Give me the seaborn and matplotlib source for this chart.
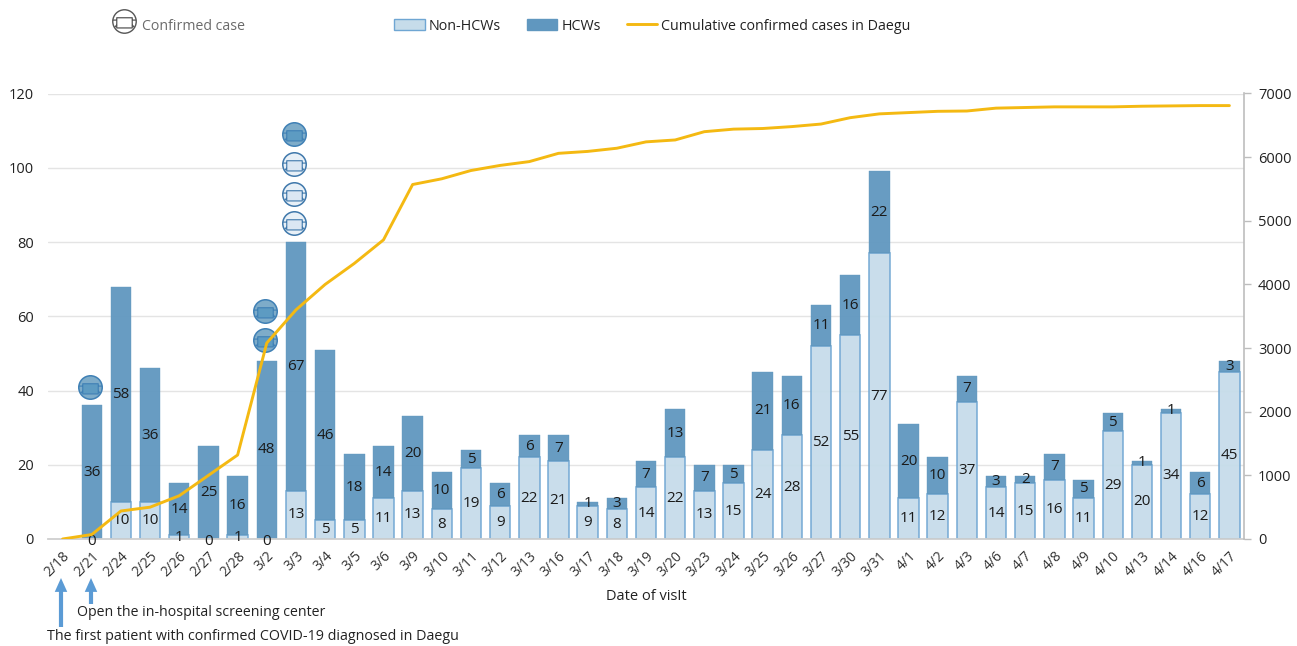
import numpy as np
import pandas as pd
import seaborn as sns
import matplotlib
matplotlib.use("Agg")
import matplotlib.pyplot as plt
from matplotlib.path import Path
from matplotlib.patches import Patch, FancyArrowPatch
from matplotlib.lines import Line2D

dates = ["2/18","2/21","2/24","2/25","2/26","2/27","2/28","3/2","3/3","3/4","3/5","3/6","3/9","3/10","3/11","3/12","3/13","3/16","3/17","3/18","3/19","3/20","3/23","3/24","3/25","3/26","3/27","3/30","3/31","4/1","4/2","4/3","4/6","4/7","4/8","4/9","4/10","4/13","4/14","4/16","4/17"]
non_hcw = [np.nan,0,10,10,1,0,1,0,13,5,5,11,13,8,19,9,22,21,9,8,14,22,13,15,24,28,52,55,77,11,12,37,14,15,16,11,29,20,34,12,45]
hcw = [np.nan,36,58,36,14,25,16,48,67,46,18,14,20,10,5,6,6,7,1,3,7,13,7,5,21,16,11,16,22,20,10,7,3,2,7,5,5,1,1,6,3]
cumulative = [0,70,440,500,680,1000,1320,3080,3600,4000,4330,4700,5570,5660,5790,5870,5930,6060,6090,6140,6240,6270,6400,6440,6450,6480,6520,6620,6680,6700,6720,6725,6770,6780,6790,6790,6790,6800,6805,6810,6810]
dark_icon_dates = ["2/21","3/2","3/2","3/3"]
dark_icon_levels = [41,53.5,61.5,109]
light_icon_dates = ["3/3","3/3","3/3"]
light_icon_levels = [85,93,101]

W, H = 1297, 646
sns.set_theme(style="white")
plt.rcParams["font.family"] = ["Open Sans", "DejaVu Sans"]
plt.rcParams["text.color"] = "#222222"

fig = plt.figure(figsize=(W/100, H/100), dpi=100)
ax = fig.add_axes([48/W, 1-539/H, (1244-48)/W, (539-93.5)/H])

df = pd.DataFrame({"date": dates, "non": non_hcw, "hcw": hcw, "cum": cumulative})
valid = df.dropna(subset=["non"])
C_LIGHT, C_DARK, C_EDGE = "#c6dcea", "#6097bf", "#6fa6d3"

sns.barplot(data=valid, x="date", y="non", order=dates, errorbar=None, saturation=1,
            color=C_LIGHT, edgecolor=C_EDGE, linewidth=1.1, width=0.7, ax=ax, zorder=2, alpha=0.95)
sns.barplot(data=valid, x="date", y="hcw", order=dates, errorbar=None, saturation=1,
            color=C_DARK, edgecolor=C_DARK, linewidth=0.3, width=0.7, ax=ax, zorder=2,
            bottom=valid["non"].to_numpy(), alpha=0.95)

ax.set_xlim(-0.5, 40.5)
ax.set_ylim(0, 120)
ax.set_yticks(range(0, 121, 20))
ax.set_axisbelow(True)
ax.grid(False)
ax.yaxis.grid(True, color="#e4e4e4", lw=1)
ax.tick_params(axis="y", length=0, pad=10, labelsize=10.5, labelcolor="#222222")
ax.tick_params(axis="x", length=0, pad=7, labelsize=10, labelcolor="#333333")
ax.set_xticks(range(len(dates)))
ax.set_xticklabels(dates, rotation=45, ha="right", rotation_mode="anchor")
ax.set_ylabel("")
ax.set_xlabel("")
for s in ["left", "top", "right"]:
    ax.spines[s].set_visible(False)
ax.spines["bottom"].set_color("#cfcfcf")
ax.spines["bottom"].set_linewidth(1.3)

# Segment labels
for i, (n, h) in enumerate(zip(non_hcw, hcw)):
    if np.isnan(n):
        continue
    ax.text(i, n/2 - (0.6 if n == 0 else 0), f"{int(n)}", ha="center", va="center", fontsize=11, color="#1a1a1a", zorder=6)
    ax.text(i, n + h/2, f"{int(h)}", ha="center", va="center", fontsize=11, color="#1a1a1a", zorder=6)

# Mask icons
mask_path = Path(
    [(-.66,-.55),(.66,-.55),(.66,.32),(-.66,.32),(-.66,-.55),
     (-1,.12),(-.66,.12),(.66,.12),(1,.12),
     (-.66,-.3),(-.85,-.5),(.66,-.3),(.85,-.5)],
    [1,2,2,2,79, 1,2, 1,2, 1,2, 1,2])
ICON = 285
def icons(target, xs, ys, face, inner, edge, **kw):
    sns.scatterplot(x=xs, y=ys, ax=target, s=ICON, marker="o", color=face, edgecolor=edge, linewidth=1.1, zorder=5, legend=False, **kw)
    sns.scatterplot(x=xs, y=ys, ax=target, s=ICON, marker=mask_path, color=inner, edgecolor=edge, linewidth=0.8, zorder=5.5, legend=False, **kw)

pos = {d: i for i, d in enumerate(dates)}
icons(ax, np.array([pos[d] for d in dark_icon_dates], float)-0.05, np.array(dark_icon_levels, float), "#7eacc9", "#5d9bc2", "#3f80b5", clip_on=False)
icons(ax, np.array([pos[d] for d in light_icon_dates], float)-0.05, np.array(light_icon_levels, float), "#e8f0f7", "#dbe7f3", "#3f78ab", clip_on=False)
ax.set_xlim(-0.5, 40.5)
ax.set_ylim(0, 120)

# Cumulative line
ax2 = ax.twinx()
sns.lineplot(x=np.arange(len(dates)), y=cumulative, ax=ax2, color="#f4b912", lw=2.1, errorbar=None, zorder=4)
ax2.set_xlim(-0.5, 40.5)
ax2.set_ylim(0, 7000)
ax2.set_yticks(range(0, 7001, 1000))
ax2.grid(False)
ax2.patch.set_visible(False)
for s in ["left", "top", "bottom"]:
    ax2.spines[s].set_visible(False)
ax2.spines["right"].set_color("#bdbdbd")
ax2.spines["right"].set_linewidth(1.2)
ax2.tick_params(axis="y", length=5, width=1, color="#bdbdbd", pad=5, labelsize=10.5, labelcolor="#222222", right=True)

# Legend
handles = [Patch(facecolor=C_LIGHT, edgecolor=C_EDGE, lw=1),
           Patch(facecolor=C_DARK, edgecolor=C_DARK, lw=1),
           Line2D([0], [0], color="#f4b912", lw=2.1)]
fig.legend(handles, ["Non-HCWs", "HCWs", "Cumulative confirmed cases in Daegu"],
           loc="center left", bbox_to_anchor=(394/W, 1-26/H), ncol=3, frameon=False,
           fontsize=10.3, handlelength=2.15, handleheight=0.7, handletextpad=0.28, columnspacing=1.8,
           borderpad=0, borderaxespad=0)

def px(x, y):
    return (x/W, 1-y/H)

# Confirmed case key
key = fig.add_axes([0, 0, 1, 1], zorder=10)
key.set_xlim(0, W); key.set_ylim(H, 0); key.axis("off"); key.patch.set_visible(False)
sns.scatterplot(x=[124], y=[21], ax=key, s=ICON, marker="o", color="white", edgecolor="#555555", linewidth=1, legend=False)
sns.scatterplot(x=[124], y=[21], ax=key, s=ICON, marker=mask_path, color="white", edgecolor="#555555", linewidth=0.9, legend=False)
key.set_xlim(0, W); key.set_ylim(H, 0)
key.set_xlabel(""); key.set_ylabel("")
fig.text(*px(142, 26), "Confirmed case", ha="left", va="center", fontsize=10.2, color="#6b6b6b")

fig.text(*px(646, 597), "Date of visIt", ha="center", va="center", fontsize=10.5, color="#222222")
fig.text(*px(77, 612), "Open the in-hospital screening center", ha="left", va="center", fontsize=10.2, color="#222222")
fig.text(*px(47, 636), "The first patient with confirmed COVID-19 diagnosed in Daegu", ha="left", va="center", fontsize=10.3, color="#222222")
for x, y0 in [(61, 627), (91, 604)]:
    fig.add_artist(FancyArrowPatch(px(x, y0), px(x, 578), transform=fig.transFigure,
        arrowstyle="simple,head_width=9,head_length=10,tail_width=3", mutation_scale=1, color="#5b9bd5", lw=0, shrinkA=0, shrinkB=0))

fig.savefig("out.png", dpi=100)
